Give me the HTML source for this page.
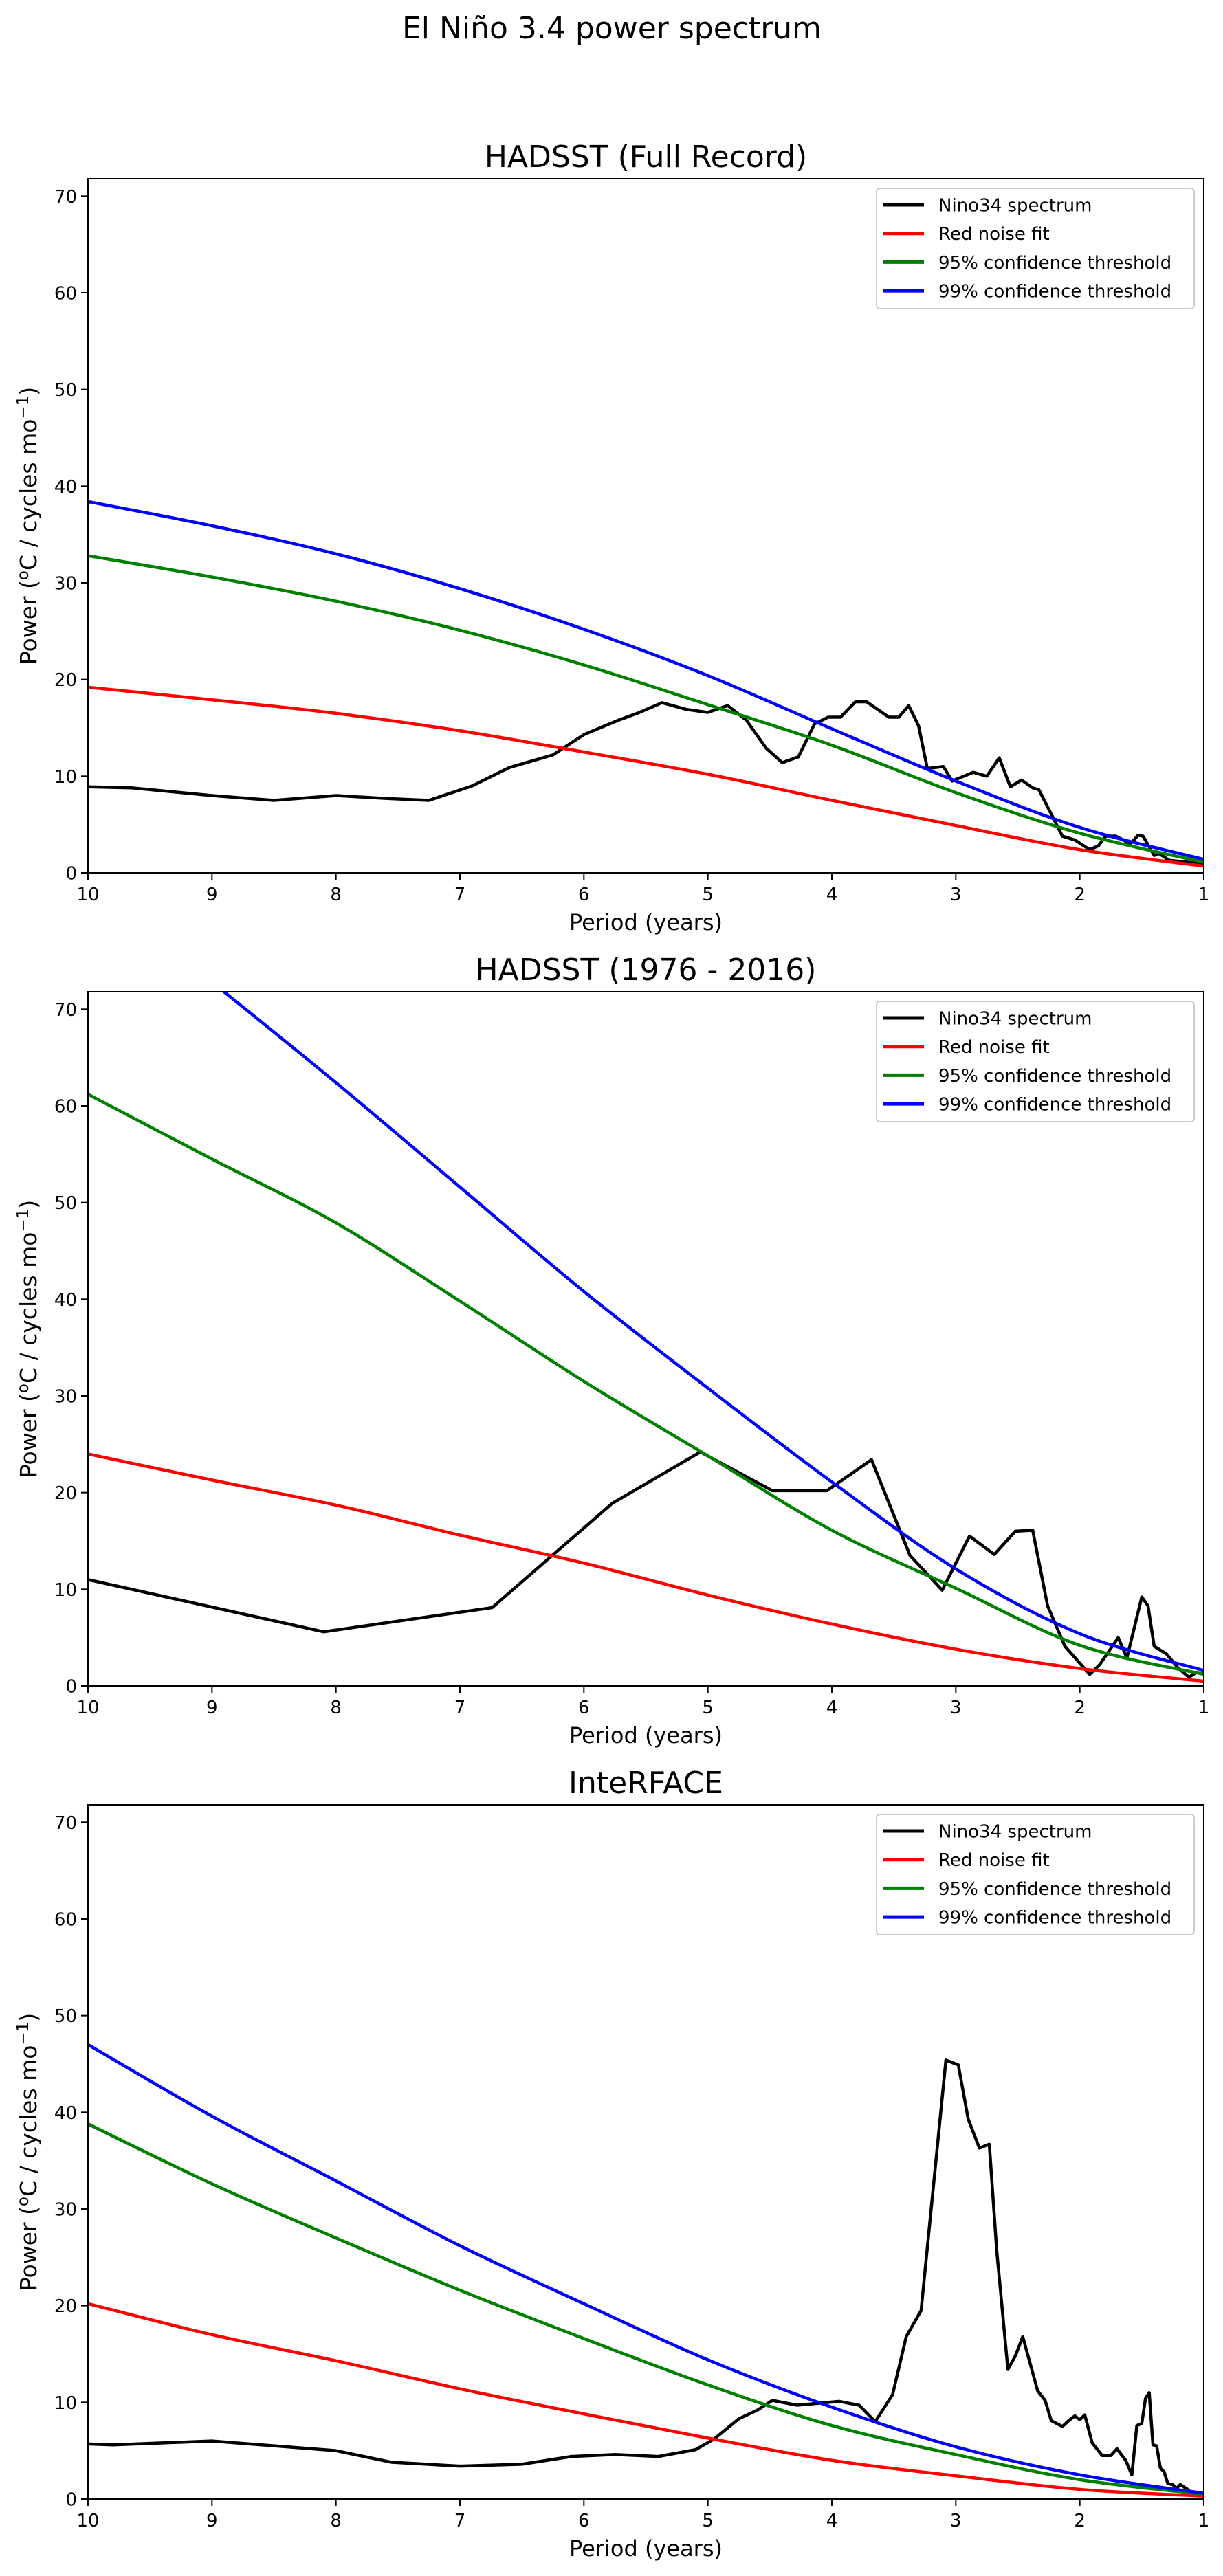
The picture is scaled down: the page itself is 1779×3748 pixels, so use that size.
<!DOCTYPE html>
<html><head><meta charset="utf-8">
<style>
html,body{margin:0;padding:0;background:#fff;}
svg{display:block;font-family:"DejaVu Sans","Liberation Sans",sans-serif;}
</style></head>
<body>
<svg id="fig" width="1779" height="3748" viewBox="0 0 1779 3748" xmlns="http://www.w3.org/2000/svg">
<rect width="1779" height="3748" fill="#fff"/>
<text x="890" y="56" font-size="44" text-anchor="middle" fill="#000">El Niño 3.4 power spectrum</text>
</svg>
<script>
// ---------- data ----------
const titles = ["HADSST (Full Record)", "HADSST (1976 - 2016)", "InteRFACE"];
const xTicks = [10,9,8,7,6,5,4,3,2,1];
const yTicks = [0,10,20,30,40,50,60,70];
const legendLabels = ["Nino34 spectrum","Red noise fit","95% confidence threshold","99% confidence threshold"];
const seriesColors = ["#000000","#ff0000","#008000","#0000ff"];
const curvePeriods = [10,9,8,7,6,5,4,3,2,1];

// Plot 1 (Full record)
const p1SpecPeriod = [10,9.65,9,8.5,8,7.6,7.25,6.9,6.6,6.25,6.0,5.72,5.57,5.37,5.17,5.0,4.84,4.69,4.53,4.40,4.27,4.14,4.03,3.93,3.81,3.72,3.54,3.46,3.38,3.30,3.23,3.10,3.03,2.86,2.75,2.65,2.56,2.47,2.38,2.33,2.14,2.04,1.92,1.85,1.79,1.71,1.65,1.59,1.53,1.49,1.40,1.36,1.28,1.13,1.04,1.0];
const p1SpecPower  = [8.9,8.8,8.0,7.5,8.0,7.7,7.5,9.0,10.9,12.2,14.3,15.8,16.5,17.6,16.9,16.6,17.3,15.8,12.9,11.4,12.0,15.4,16.1,16.1,17.7,17.7,16.1,16.1,17.3,15.2,10.8,11.0,9.5,10.4,10.0,11.9,8.9,9.6,8.8,8.6,3.8,3.4,2.4,2.8,3.8,3.8,3.4,3.0,3.9,3.8,1.8,2.0,1.3,1.1,1.0,1.0];
const p1Red   = [19.2,17.9,16.5,14.7,12.5,10.2,7.5,4.9,2.4,0.7];
const p1Green = [32.8,30.6,28.1,25.1,21.5,17.4,13.2,8.3,4.1,1.1];
const p1Blue  = [38.4,35.9,33.0,29.4,25.2,20.4,14.9,9.5,4.7,1.4];

// Plot 2 (1976-2016)
const p2SpecPeriod = [10,8.1,6.74,5.77,5.06,4.48,4.04,3.68,3.37,3.11,2.89,2.69,2.52,2.38,2.26,2.12,2.01,1.92,1.84,1.69,1.62,1.50,1.45,1.40,1.30,1.21,1.12,1.06,1.0];
const p2SpecPower  = [11.0,5.6,8.1,18.9,24.2,20.2,20.2,23.4,13.5,9.9,15.5,13.6,16.0,16.1,8.3,4.1,2.5,1.2,2.2,5.0,2.9,9.2,8.3,4.1,3.3,1.9,0.9,1.4,1.3];
const p2Red   = [24.0,21.3,18.7,15.6,12.7,9.4,6.4,3.8,1.8,0.5];
const p2Green = [61.2,54.5,47.9,39.8,31.5,23.8,16.1,10.1,4.2,1.2];
const p2Blue  = [83.0,72.8,62.4,51.6,40.8,30.8,21.1,12.1,5.4,1.6];

// Plot 3 (InteRFACE)
const p3SpecPeriod = [10,9.8,9,8,7.55,7,6.5,6.1,5.75,5.4,5.1,4.95,4.75,4.60,4.48,4.28,3.94,3.78,3.65,3.51,3.40,3.28,3.08,2.98,2.90,2.81,2.73,2.67,2.58,2.52,2.46,2.34,2.28,2.23,2.14,2.09,2.04,2.00,1.96,1.90,1.82,1.75,1.70,1.63,1.58,1.54,1.50,1.47,1.44,1.41,1.38,1.35,1.32,1.29,1.25,1.22,1.19,1.13,1.10,1.0];
const p3SpecPower  = [5.7,5.6,6.0,5.0,3.8,3.4,3.6,4.4,4.6,4.4,5.1,6.2,8.3,9.2,10.2,9.7,10.1,9.7,8.0,10.8,16.8,19.5,45.4,44.9,39.3,36.3,36.7,25.7,13.4,14.8,16.8,11.2,10.2,8.1,7.5,8.1,8.6,8.2,8.7,5.8,4.5,4.5,5.2,4.0,2.5,7.6,7.8,10.4,11.0,5.6,5.5,3.2,2.8,1.6,1.5,1.1,1.5,1.0,0.6,0.6];
const p3Red   = [20.2,17.0,14.3,11.4,8.8,6.3,4.0,2.4,1.0,0.3];
const p3Green = [38.8,32.6,27.0,21.6,16.6,11.8,7.6,4.6,2.0,0.5];
const p3Blue  = [47.0,39.6,32.9,26.2,20.2,14.4,9.5,5.4,2.5,0.6];

const plots = [
  {spec:[p1SpecPeriod,p1SpecPower], curves:[p1Red,p1Green,p1Blue]},
  {spec:[p2SpecPeriod,p2SpecPower], curves:[p2Red,p2Green,p2Blue]},
  {spec:[p3SpecPeriod,p3SpecPower], curves:[p3Red,p3Green,p3Blue]}
];

// ---------- layout ----------
const NS = "http://www.w3.org/2000/svg";
const svg = document.getElementById('fig');
const L = 128, R = 1751, H = 1010, yMax = 71.8;
const bottoms = [1270, 2453, 3636];

function mk(tag, attrs, parent){
  const e = document.createElementNS(NS, tag);
  for (const k in attrs) e.setAttribute(k, attrs[k]);
  (parent||svg).appendChild(e);
  return e;
}
function smoothPath(pts){
  let d = "M" + pts[0][0].toFixed(2) + "," + pts[0][1].toFixed(2);
  for (let i=0;i<pts.length-1;i++){
    const p0 = pts[Math.max(0,i-1)], p1 = pts[i], p2 = pts[i+1], p3 = pts[Math.min(pts.length-1,i+2)];
    const c1 = [p1[0]+(p2[0]-p0[0])/6, p1[1]+(p2[1]-p0[1])/6];
    const c2 = [p2[0]-(p3[0]-p1[0])/6, p2[1]-(p3[1]-p1[1])/6];
    d += " C"+c1[0].toFixed(2)+","+c1[1].toFixed(2)+" "+c2[0].toFixed(2)+","+c2[1].toFixed(2)+" "+p2[0].toFixed(2)+","+p2[1].toFixed(2);
  }
  return d;
}

plots.forEach((pl, i) => {
  const B = bottoms[i], T = B - H;
  const xS = p => L + (10 - p) / 9 * (R - L);
  const yS = v => B - v / yMax * H;

  const g = mk('g', {});
  
  

  const clipId = 'clip' + i;
  const cp = mk('clipPath', {id: clipId}, g);
  mk('rect', {x:L, y:T, width:R-L, height:H}, cp);

  const t = mk('text', {x:(L+R)/2, y:T-17, 'font-size':44, 'text-anchor':'middle', fill:'#000'}, g);
  
  
  t.textContent = titles[i];

  const plotG = mk('g', {'clip-path':'url(#'+clipId+')'}, g);
  
  
  const spec = mk('polyline', {fill:'none', stroke:seriesColors[0], 'stroke-width':4.5, 'stroke-linejoin':'round',
    points: pl.spec[0].map((p,k)=>xS(p).toFixed(2)+","+yS(pl.spec[1][k]).toFixed(2)).join(" ")}, plotG);
  
  
  const cNames = ['red-noise-line','confidence-95-line','confidence-99-line'];
  pl.curves.forEach((c, k) => {
    const pts = curvePeriods.map((p,j)=>[xS(p), yS(c[j])]);
    const path = mk('path', {d:smoothPath(pts), fill:'none', stroke:seriesColors[k+1], 'stroke-width':4.5}, plotG);
    
    
  });

  const fr = mk('rect', {x:L, y:T, width:R-L, height:H, fill:'none', stroke:'#000', 'stroke-width':2}, g);
  
  

  yTicks.forEach(v => {
    const y = yS(v);
    mk('line', {x1:L-10, x2:L, y1:y, y2:y, stroke:'#000', 'stroke-width':2}, g);
    const tl = mk('text', {x:L-16, y:y+9.5, 'font-size':26, 'text-anchor':'end', fill:'#000'}, g);
    
    
    tl.textContent = v;
  });
  xTicks.forEach(p => {
    const x = xS(p);
    mk('line', {x1:x, x2:x, y1:B, y2:B+10, stroke:'#000', 'stroke-width':2}, g);
    const tl = mk('text', {x:x, y:B+40, 'font-size':26, 'text-anchor':'middle', fill:'#000'}, g);
    
    
    tl.textContent = p;
  });

  const xl = mk('text', {x:(L+R)/2, y:B+83, 'font-size':32, 'text-anchor':'middle', fill:'#000'}, g);
  
  
  xl.textContent = 'Period (years)';

  const yl = mk('text', {x:0, y:0, 'font-size':33, 'text-anchor':'middle', fill:'#000',
    transform:'translate(53,'+((T+B)/2)+') rotate(-90)'}, g);
  
  
  yl.innerHTML = 'Power (<tspan font-size="23" dy="-12">o</tspan><tspan dy="12">C / cycles mo</tspan><tspan font-size="23" dy="-12">−1</tspan><tspan dy="12">)</tspan>';

  const lg = mk('g', {}, g);
  
  
  mk('rect', {x:1275, y:T+14, width:462, height:175, rx:5, fill:'#fff', 'fill-opacity':0.8, stroke:'#cccccc', 'stroke-width':2}, lg);
  legendLabels.forEach((lab, k) => {
    const cy = T + 38 + k*41.7;
    const e = mk('g', {}, lg);
    
    
    mk('line', {x1:1284, x2:1344, y1:cy, y2:cy, stroke:seriesColors[k], 'stroke-width':5}, e);
    const tx = mk('text', {x:1365, y:cy+9.5, 'font-size':26, fill:'#000'}, e);
    tx.textContent = lab;
  });
});
</script>
</body></html>
